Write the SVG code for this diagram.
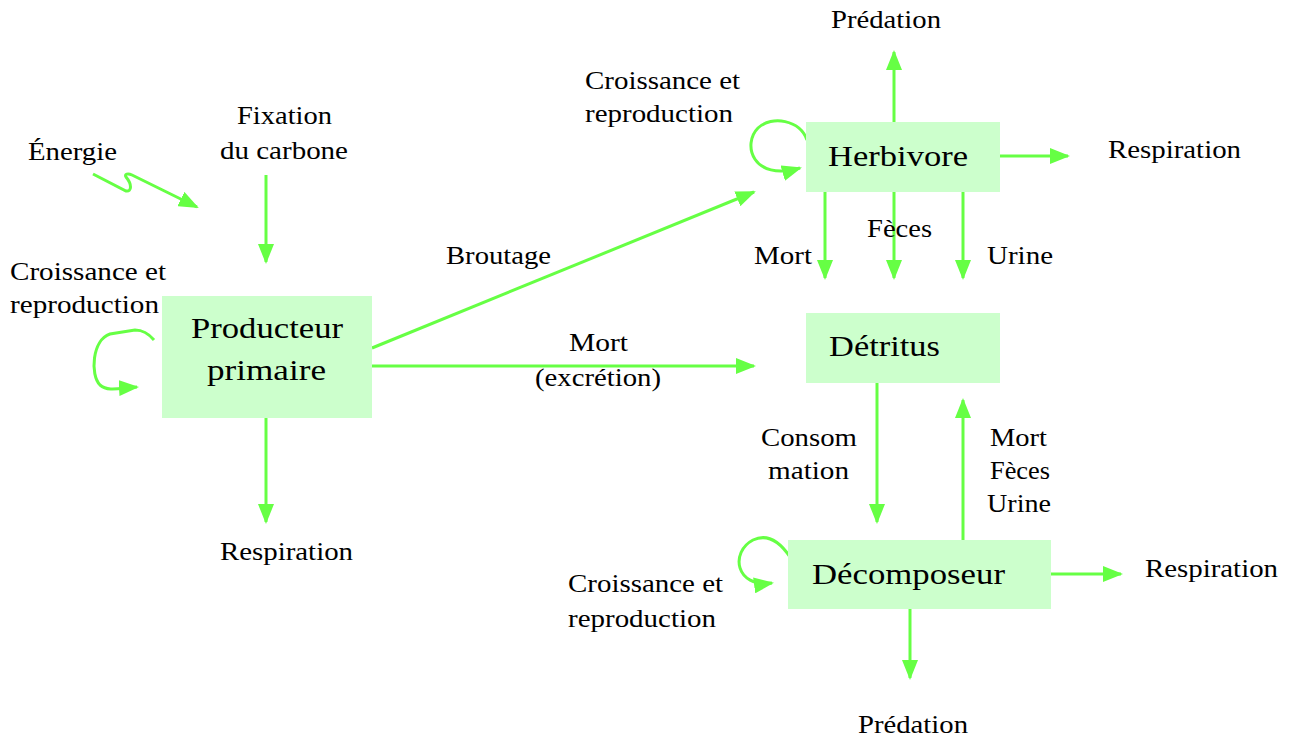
<svg xmlns="http://www.w3.org/2000/svg" width="1289" height="742" viewBox="0 0 1289 742">
<style>
.box{fill:#ccffcc}
.ln{fill:none;stroke:#66ff44;stroke-width:3;marker-end:url(#ah)}
.s{font-size:25px}
.n{font-size:29px}
</style>
<defs>
<marker id="ah" markerUnits="userSpaceOnUse" markerWidth="20" markerHeight="16" refX="18" refY="8" orient="auto">
<path d="M0,0 L20,8 L0,16 Z" fill="#66ff44"/>
</marker>
</defs>
<rect width="1289" height="742" fill="#fff"/>
<g id="connectors">
<path class="ln" d="M93,174 L126,191 C132,192 132,184 126,177 C124,174 128,173 132,175 L197,207"/>
<path class="ln" d="M266,175 L266,262"/>
<path class="ln" d="M154,340 C148,333 143,330 135,330 L110,334 C92,340 90,375 100,385 C108,392 120,388 137,387"/>
<path class="ln" d="M372,348 L754,192"/>
<path class="ln" d="M372,366 L754,366"/>
<path class="ln" d="M266,418 L266,522"/>
<path class="ln" d="M807,140 C800,120 772,115 758,128 C742,144 752,182 800,168"/>
<path class="ln" d="M894,122 L894,52"/>
<path class="ln" d="M1000,156 L1068,156"/>
<path class="ln" d="M825,192 L825,278"/>
<path class="ln" d="M894,192 L894,278"/>
<path class="ln" d="M963,192 L963,278"/>
<path class="ln" d="M877,383 L877,522"/>
<path class="ln" d="M963,540 L963,400"/>
<path class="ln" d="M790,557 C780,542 768,533 753,540 C730,552 735,588 772,583"/>
<path class="ln" d="M1051,574 L1121,574"/>
<path class="ln" d="M910,609 L910,678"/>
</g>
<g font-family="'Liberation Serif', 'Times New Roman', serif" fill="#000">
<g id="producteur">
<rect class="box" x="162" y="296" width="210" height="122"/>
<text class="n" x="191" y="338" textLength="152" lengthAdjust="spacingAndGlyphs">Producteur</text>
<text class="n" x="207" y="380" textLength="119" lengthAdjust="spacingAndGlyphs">primaire</text>
</g>
<g id="herbivore">
<rect class="box" x="806" y="122" width="194" height="70"/>
<text class="n" x="828" y="166" textLength="140" lengthAdjust="spacingAndGlyphs">Herbivore</text>
</g>
<g id="detritus">
<rect class="box" x="806" y="313" width="194" height="70"/>
<text class="n" x="829" y="356" textLength="111" lengthAdjust="spacingAndGlyphs">Détritus</text>
</g>
<g id="decomposeur">
<rect class="box" x="788" y="540" width="263" height="69"/>
<text class="n" x="812" y="584" textLength="193" lengthAdjust="spacingAndGlyphs">Décomposeur</text>
</g>
<g id="labels" class="s">
<text x="831" y="28" textLength="110" lengthAdjust="spacingAndGlyphs">Prédation</text>
<text x="585" y="89" textLength="155" lengthAdjust="spacingAndGlyphs">Croissance et</text>
<text x="585" y="122" textLength="148" lengthAdjust="spacingAndGlyphs">reproduction</text>
<text x="1108" y="158" textLength="133" lengthAdjust="spacingAndGlyphs">Respiration</text>
<text x="867" y="237" textLength="65" lengthAdjust="spacingAndGlyphs">Fèces</text>
<text x="754" y="264" textLength="58" lengthAdjust="spacingAndGlyphs">Mort</text>
<text x="987" y="264" textLength="66" lengthAdjust="spacingAndGlyphs">Urine</text>
<text x="28" y="160" textLength="89" lengthAdjust="spacingAndGlyphs">Énergie</text>
<text x="237" y="124" textLength="95" lengthAdjust="spacingAndGlyphs">Fixation</text>
<text x="220" y="159" textLength="128" lengthAdjust="spacingAndGlyphs">du carbone</text>
<text x="10" y="280" textLength="156" lengthAdjust="spacingAndGlyphs">Croissance et</text>
<text x="10" y="313" textLength="149" lengthAdjust="spacingAndGlyphs">reproduction</text>
<text x="446" y="264" textLength="105" lengthAdjust="spacingAndGlyphs">Broutage</text>
<text x="569" y="351" textLength="59" lengthAdjust="spacingAndGlyphs">Mort</text>
<text x="535" y="386" textLength="126" lengthAdjust="spacingAndGlyphs">(excrétion)</text>
<text x="761" y="446" textLength="96" lengthAdjust="spacingAndGlyphs">Consom</text>
<text x="768" y="479" textLength="81" lengthAdjust="spacingAndGlyphs">mation</text>
<text x="990" y="446" textLength="57" lengthAdjust="spacingAndGlyphs">Mort</text>
<text x="990" y="479" textLength="60" lengthAdjust="spacingAndGlyphs">Fèces</text>
<text x="987" y="512" textLength="64" lengthAdjust="spacingAndGlyphs">Urine</text>
<text x="220" y="560" textLength="133" lengthAdjust="spacingAndGlyphs">Respiration</text>
<text x="1145" y="577" textLength="133" lengthAdjust="spacingAndGlyphs">Respiration</text>
<text x="568" y="592" textLength="155" lengthAdjust="spacingAndGlyphs">Croissance et</text>
<text x="568" y="627" textLength="148" lengthAdjust="spacingAndGlyphs">reproduction</text>
<text x="858" y="733" textLength="110" lengthAdjust="spacingAndGlyphs">Prédation</text>
</g>
</g>
</svg>
